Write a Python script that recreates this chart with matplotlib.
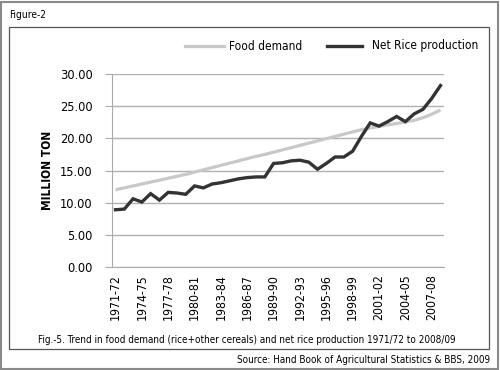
import matplotlib
matplotlib.use("Agg")
import matplotlib.pyplot as plt
from matplotlib.patches import Rectangle
from matplotlib.lines import Line2D

plt.rcParams['font.family'] = ['DejaVu Sans']
plt.rcParams['font.stretch'] = 'condensed'

years = [f"{y}-{str(y + 1)[-2:]}" for y in range(1971, 2009)]
food_demand = [12.0, 12.3, 12.6, 12.9, 13.2, 13.5, 13.8, 14.1, 14.4, 14.75,
               15.1, 15.45, 15.8, 16.15, 16.5, 16.85, 17.2, 17.5, 17.85, 18.2,
               18.55, 18.9, 19.25, 19.6, 19.95, 20.3, 20.65, 21.0, 21.35, 21.6,
               21.85, 22.1, 22.3, 22.55, 22.8, 23.2, 23.75, 24.4]
rice_production = [8.9, 9.0, 10.6, 10.1, 11.4, 10.4, 11.6, 11.5, 11.3, 12.6,
                   12.3, 12.9, 13.1, 13.4, 13.7, 13.9, 14.0, 14.0, 16.1, 16.2,
                   16.5, 16.6, 16.3, 15.2, 16.1, 17.1, 17.1, 18.0, 20.3, 22.4,
                   21.9, 22.6, 23.4, 22.6, 23.8, 24.5, 26.2, 28.2]
yticks = [0, 5, 10, 15, 20, 25, 30]

fig = plt.figure(figsize=(5, 3.7), dpi=100)
W, H = 500, 370

fig.patches.append(Rectangle((1 / W, 1 / H), 497 / W, 367 / H, transform=fig.transFigure,
                             fill=False, edgecolor='#8a8a8a', linewidth=1.5))
fig.patches.append(Rectangle((9 / W, 1 - 349 / H), 480 / W, 322 / H, transform=fig.transFigure,
                             fill=False, edgecolor='#555555', linewidth=0.9))

ax = fig.add_axes([112 / W, 1 - 267 / H, 332 / W, 193 / H])
x = list(range(len(years)))
ax.plot(x, food_demand, color='#c8c8c8', linewidth=2.3, solid_capstyle='butt')
ax.plot(x, rice_production, color='#333333', linewidth=2.4, solid_joinstyle='miter')

ax.set_xlim(-0.4, len(years) - 0.6)
ax.set_ylim(0, 30)
ax.set_yticks(yticks)
ax.set_yticklabels([f"{v:.2f}" for v in yticks], fontsize=9.2)
ax.set_xticks(x[::3])
ax.set_xticklabels(years[::3], rotation=90, fontsize=8.8)
ax.tick_params(axis='y', length=5, color='#aaaaaa', pad=9)
ax.tick_params(axis='x', length=0, pad=5)
ax.grid(axis='y', color='#b0b0b0', linewidth=1)
ax.set_axisbelow(True)
for s in ['top', 'right']:
    ax.spines[s].set_visible(False)
ax.spines['left'].set_color('#aaaaaa')
ax.spines['bottom'].set_color('#aaaaaa')
ax.set_ylabel('MILLION TON', fontsize=8.6, fontweight='bold', labelpad=4)

fig.add_artist(Line2D([185 / W, 224 / W], [1 - 46 / H, 1 - 46 / H], color='#c8c8c8', linewidth=2.3))
fig.text(229 / W, 1 - 46 / H, 'Food demand', fontsize=8.6, va='center', ha='left')
fig.add_artist(Line2D([327 / W, 362 / W], [1 - 46 / H, 1 - 46 / H], color='#333333', linewidth=2.4))
fig.text(372 / W, 1 - 46 / H, 'Net Rice production', fontsize=8.6, va='center', ha='left')

fig.text(9 / W, 1 - 15 / H, 'Figure-2', fontsize=7.3, va='center', ha='left')
fig.text(247 / W, 1 - 340 / H,
         'Fig.-5. Trend in food demand (rice+other cereals) and net rice production 1971/72 to 2008/09',
         fontsize=7.1, va='center', ha='center')
fig.text(490 / W, 1 - 360 / H, 'Source: Hand Book of Agricultural Statistics & BBS, 2009',
         fontsize=7.1, va='center', ha='right')

fig.savefig('out.png', dpi=100)
